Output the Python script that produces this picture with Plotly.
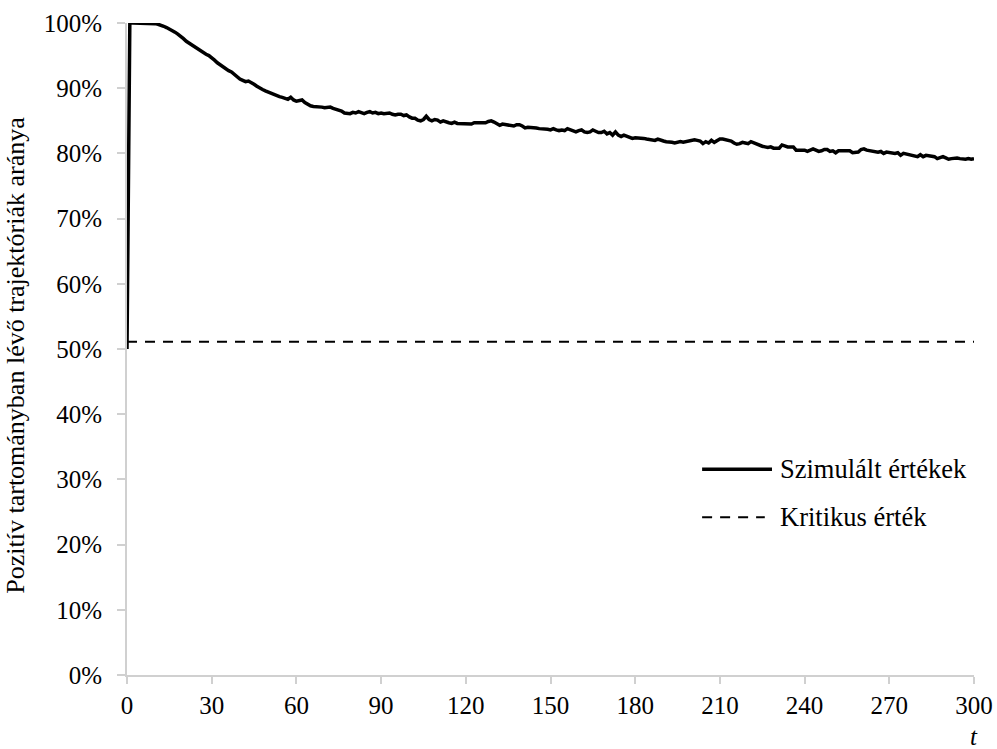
import plotly.graph_objects as go

# Time steps and the simulated share of trajectories in the positive region (%)
t_steps = list(range(0, 301))

sim_share = [
    50.0,
    100.0, 100.0, 100.0, 100.0, 100.0, 100.0, 100.0, 100.0, 100.0, 99.9,
    99.8, 99.7, 99.5, 99.3, 99.1, 98.9, 98.6, 98.3, 98.0, 97.6,
    97.2, 96.9, 96.6, 96.3, 96.0, 95.8, 95.5, 95.2, 95.0, 94.7,
    94.3, 93.9, 93.6, 93.2, 92.9, 92.7, 92.5, 92.1, 91.7, 91.4,
    91.2, 91.0, 91.1, 90.9, 90.6, 90.3, 90.0, 89.8, 89.6, 89.4,
    89.2, 89.0, 88.9, 88.7, 88.6, 88.5, 88.3, 88.6, 88.2, 88.0,
    88.1, 88.2, 87.8, 87.5, 87.3, 87.2, 87.2, 87.1, 87.1, 87.0,
    87.1, 87.1, 86.9, 86.8, 86.7, 86.5, 86.2, 86.1, 86.1, 86.3,
    86.2, 86.4, 86.3, 86.1, 86.3, 86.4, 86.2, 86.3, 86.1, 86.2,
    86.1, 86.1, 86.2, 86.0, 85.9, 86.0, 86.0, 85.8, 85.9, 85.6,
    85.4, 85.4, 85.1, 85.0, 85.2, 85.7, 85.2, 85.0, 85.2, 85.1,
    84.8, 85.0, 84.8, 84.7, 84.6, 84.8, 84.6, 84.6, 84.6, 84.6,
    84.6, 84.5, 84.7, 84.7, 84.7, 84.6, 84.7, 84.9, 85.0, 84.8,
    84.5, 84.3, 84.5, 84.4, 84.4, 84.3, 84.2, 84.4, 84.4, 84.2,
    83.9, 84.0, 84.0, 83.9, 83.9, 83.8, 83.8, 83.8, 83.7, 83.6,
    83.8, 83.6, 83.5, 83.6, 83.5, 83.8, 83.6, 83.4, 83.3, 83.5,
    83.6, 83.3, 83.2, 83.3, 83.6, 83.4, 83.2, 83.2, 83.4, 83.0,
    83.2, 82.8, 83.3, 82.8, 82.6, 82.8, 82.6, 82.4, 82.3, 82.4,
    82.4, 82.3, 82.3, 82.2, 82.1, 82.1, 82.0, 82.2, 82.0, 81.9,
    81.8, 81.8, 81.7, 81.6, 81.7, 81.8, 81.7, 81.8, 81.9, 82.0,
    82.1, 82.0, 81.9, 81.5, 81.8, 81.6, 82.0, 81.7, 81.9, 82.2,
    82.2, 82.1, 82.0, 81.9, 81.6, 81.4, 81.5, 81.7, 81.6, 81.5,
    81.8, 81.6, 81.4, 81.2, 81.1, 81.0, 80.9, 81.0, 80.8, 80.8,
    80.8, 81.3, 81.1, 81.0, 81.0, 81.0, 80.5, 80.5, 80.6, 80.5,
    80.3, 80.5, 80.7, 80.5, 80.3, 80.4, 80.6, 80.6, 80.3, 80.4,
    80.1, 80.4, 80.4, 80.3, 80.3, 80.4, 80.1, 80.2, 80.2, 80.6,
    80.7, 80.5, 80.4, 80.3, 80.3, 80.2, 80.3, 80.0, 80.2, 80.1,
    80.1, 80.0, 80.1, 79.7, 80.0, 79.9, 79.9, 79.8, 79.7, 79.5,
    79.8, 79.5, 79.7, 79.6, 79.6, 79.5, 79.2, 79.4, 79.5, 79.3,
    79.1, 79.2, 79.3, 79.3, 79.2, 79.1, 79.1, 79.2, 79.1, 79.2,
]

critical_value = 51.1  # critical share (%)

series_names = ["Szimulált értékek", "Kritikus érték"]
x_ticks = list(range(0, 301, 30))
y_ticks = list(range(0, 101, 10))
y_tick_labels = [f"{v}%" for v in y_ticks]

FONT = "Liberation Serif"
AXIS_GRAY = "#d0d0d0"

fig = go.Figure()

fig.add_trace(go.Scatter(
    x=t_steps, y=[critical_value] * len(t_steps), mode="lines",
    line=dict(color="black", width=2, dash="10px,8px"),
    name=series_names[1], showlegend=False, hoverinfo="skip",
))
fig.add_trace(go.Scatter(
    x=t_steps, y=sim_share, mode="lines",
    line=dict(color="black", width=3.5),
    name=series_names[0], showlegend=False, cliponaxis=False,
))

fig.update_layout(
    template="none",
    width=997, height=749,
    margin=dict(l=127, r=23, t=23, b=74, autoexpand=False),
    paper_bgcolor="white", plot_bgcolor="white",
    showlegend=False,
    font=dict(family=FONT, size=25, color="black"),
    xaxis=dict(
        range=[0, 300], tickvals=x_ticks, showgrid=False, zeroline=False,
        automargin=False,
        showline=True, linecolor=AXIS_GRAY, linewidth=2,
        ticks="outside", ticklen=7, tickcolor=AXIS_GRAY, tickwidth=2,
        tickfont=dict(family=FONT, size=25, color="black"),
    ),
    yaxis=dict(
        range=[0, 100], tickvals=y_ticks, ticktext=y_tick_labels,
        showgrid=False, zeroline=False, automargin=False,
        showline=True, linecolor=AXIS_GRAY, linewidth=2,
        ticks="outside", ticklen=8, tickcolor=AXIS_GRAY, tickwidth=2,
        tickfont=dict(family=FONT, size=25, color="black"),
        ticklabelstandoff=10,
    ),
)

# Y-axis title
fig.add_annotation(
    xref="paper", yref="paper", x=-0.132, y=0.49,
    text="Pozitív tartományban lévő trajektóriák aránya", textangle=-90,
    showarrow=False, xanchor="center", yanchor="middle",
    font=dict(family=FONT, size=26, color="black"),
)
# X-axis label "t"
fig.add_annotation(
    xref="paper", yref="paper", x=1.0, y=-0.094,
    text="<i>t</i>", showarrow=False, xanchor="center", yanchor="middle",
    font=dict(family=FONT, size=25, color="black"),
)

# Legend drawn as line samples with labels
legend_rows = [
    (series_names[0], 0.3155, 0.7615, "solid", 3.5),
    (series_names[1], 0.242, 0.753, "10px,8px", 2),
]
for label, ypos, x_end, dash, width in legend_rows:
    fig.add_shape(
        type="line", xref="paper", yref="paper",
        x0=0.679, x1=x_end, y0=ypos, y1=ypos,
        line=dict(color="black", width=width, dash=dash),
    )
    fig.add_annotation(
        xref="paper", yref="paper", x=0.7686, y=ypos, text=label,
        showarrow=False, xanchor="left", yanchor="middle",
        font=dict(family=FONT, size=26.5, color="black"),
    )

fig.write_html("out.html")
